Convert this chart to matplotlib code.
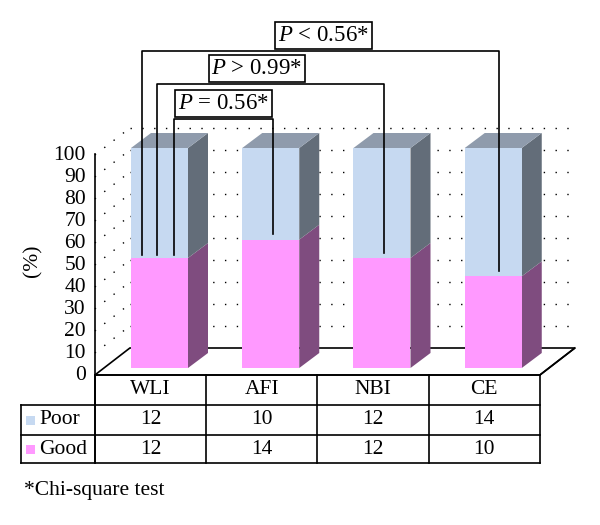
import numpy as np
import matplotlib
matplotlib.use("Agg")
import matplotlib.pyplot as plt
from matplotlib.patches import Polygon, Rectangle

plt.rcParams['font.family'] = ['Liberation Serif', 'DejaVu Serif']
plt.rcParams['mathtext.fontset'] = 'custom'
plt.rcParams['mathtext.rm'] = 'Liberation Serif'
plt.rcParams['mathtext.it'] = 'Liberation Serif:italic'

# data
methods = ['WLI', 'AFI', 'NBI', 'CE']
poor = [12, 10, 12, 14]
good = [12, 14, 12, 10]
yticks = [0, 10, 20, 30, 40, 50, 60, 70, 80, 90, 100]
comparisons = [(0, 1), (0, 2), (0, 3)]
p_labels = [r'$P$ = 0.56*', r'$P$ > 0.99*', r'$P$ < 0.56*']
footnote = '*Chi-square test'

good_pct = [g / (g + p) * 100 for g, p in zip(good, poor)]

# colours
c_poor = '#c6d9f1'
c_poor_side = '#636d79'
c_poor_top = '#8f9bac'
c_good = '#ff99ff'
c_good_side = '#7f4c7f'

# pixel -> data scale (one category = 111.25 px, 1% = 2.2 px)
sx = 111.25
sy = 2.2
fs = 15.5

fig = plt.figure(figsize=(6, 5.25), dpi=100)
ax = fig.add_axes([0, 0, 1, 1])
ax.set_xlim(-150.5 / sx, (600 - 150.5) / sx)
ax.set_ylim(-150 / sy, 375 / sy)
ax.axis('off')

n = len(methods)
x0, x1 = -0.5, n - 0.5
ddx, ddy = 35 / sx, 27 / sy          # floor depth
dots = (0, (1.0, 7.5))

# back wall + side wall dotted grid
for t in yticks[1:]:
    ax.plot([x0 + ddx, x1 + ddx - 6 / sx], [t + ddy, t + ddy], color='k',
            lw=1.0, ls=dots, zorder=1)
    ax.plot([x0, x0 + ddx], [t, t + ddy], color='k', lw=1.0, ls=dots, zorder=1)

# floor
ax.add_patch(Polygon([(x0, 0), (x1, 0), (x1 + ddx, ddy), (x0 + ddx, ddy)],
                     closed=True, facecolor='white', edgecolor='k', lw=1.2,
                     zorder=2))

# bars
bw = 57 / sx
fx, fy = 9 / sx, 7 / sy               # bar front offset inside floor
bdx, bdy = 20 / sx, 15 / sy           # bar depth
for i in range(n):
    xl = i - 0.5 * bw + fx
    xr = xl + bw
    segs = [(0, good_pct[i], c_good, c_good_side),
            (good_pct[i], 100, c_poor, c_poor_side)]
    for lo, hi, cf, cs in segs:
        ax.add_patch(Polygon([(xr, lo + fy), (xr + bdx, lo + fy + bdy),
                              (xr + bdx, hi + fy + bdy), (xr, hi + fy)],
                             closed=True, facecolor=cs, edgecolor='none', zorder=3))
        ax.add_patch(Rectangle((xl, lo + fy), bw, hi - lo, facecolor=cf,
                               edgecolor='none', zorder=3))
    ax.add_patch(Polygon([(xl, 100 + fy), (xr, 100 + fy), (xr + bdx, 100 + fy + bdy),
                          (xl + bdx, 100 + fy + bdy)], closed=True,
                         facecolor=c_poor_top, edgecolor='none', zorder=3))

# y axis
ax.plot([x0, x0], [100.5, -13.6], color='k', lw=1.2, zorder=4)
for t in yticks:
    ax.text(x0 - 9 / sx, t, str(t), ha='right', va='center', fontsize=fs)
ax.text((33 - 150.5) / sx, 52, '(%)', rotation=90, ha='center', va='center',
        fontsize=fs)

# significance brackets
levels = [116.4, 132.3, 147.3]
left_off = [14.5, -2.5, -17.5]
right_off = [2.5, 2.5, 5.5]
label_shift = [0, -14, 3]
for k, (a, b) in enumerate(comparisons):
    xa = a + fx + left_off[k] / sx
    xb = b + fx + right_off[k] / sx
    ya = good_pct[a] + fy + 1.5
    yb = good_pct[b] + fy + 2.5
    lv = levels[k]
    ax.plot([xa, xa, xb, xb], [ya, lv, lv, yb], color='k', lw=1.2, zorder=5)
    ax.text((xa + xb) / 2 + label_shift[k] / sx, lv + 15.5 / sy, p_labels[k],
            ha='center', va='center', fontsize=16.5, zorder=6,
            bbox=dict(boxstyle='square,pad=0.12', facecolor='white',
                      edgecolor='k', lw=1.2))

# data table
r0, r1, r2, r3 = 0, -30 / sy, -60 / sy, -88 / sy
xlab = (21 - 150.5) / sx
lw = 1.2
for yy in [r1, r2, r3]:
    ax.plot([xlab, x1], [yy, yy], color='k', lw=lw, zorder=4)
ax.plot([x0, x1], [r0, r0], color='k', lw=lw, zorder=4)
ax.plot([xlab, xlab], [r1, r3], color='k', lw=lw, zorder=4)
ax.plot([x0, x0], [r0, r3], color='k', lw=lw, zorder=4)
for i in range(n + 1):
    ax.plot([i - 0.5, i - 0.5], [r0, r3], color='k', lw=lw, zorder=4)
ax.plot([x1, x1 + ddx], [0, ddy], color='k', lw=lw, zorder=4)

for i, m in enumerate(methods):
    ax.text(i, (r0 + r1) / 2, m, ha='center', va='center', fontsize=fs)
    ax.text(i, (r1 + r2) / 2, str(poor[i]), ha='center', va='center', fontsize=fs)
    ax.text(i, (r2 + r3) / 2, str(good[i]), ha='center', va='center', fontsize=fs)

sq = 9
for (ya, yb), name, col in [((r1, r2), 'Poor', c_poor), ((r2, r3), 'Good', c_good)]:
    yc = (ya + yb) / 2
    ax.add_patch(Rectangle(((26 - 150.5) / sx, yc - sq / 2 / sy), sq / sx, sq / sy,
                           facecolor=col, edgecolor='none', zorder=4))
    ax.text((39 - 150.5) / sx, yc, name, ha='left', va='center', fontsize=fs)

ax.text((24 - 150.5) / sx, (375 - 490) / sy, footnote, ha='left', va='center',
        fontsize=fs)

fig.savefig('out.png', dpi=100)
